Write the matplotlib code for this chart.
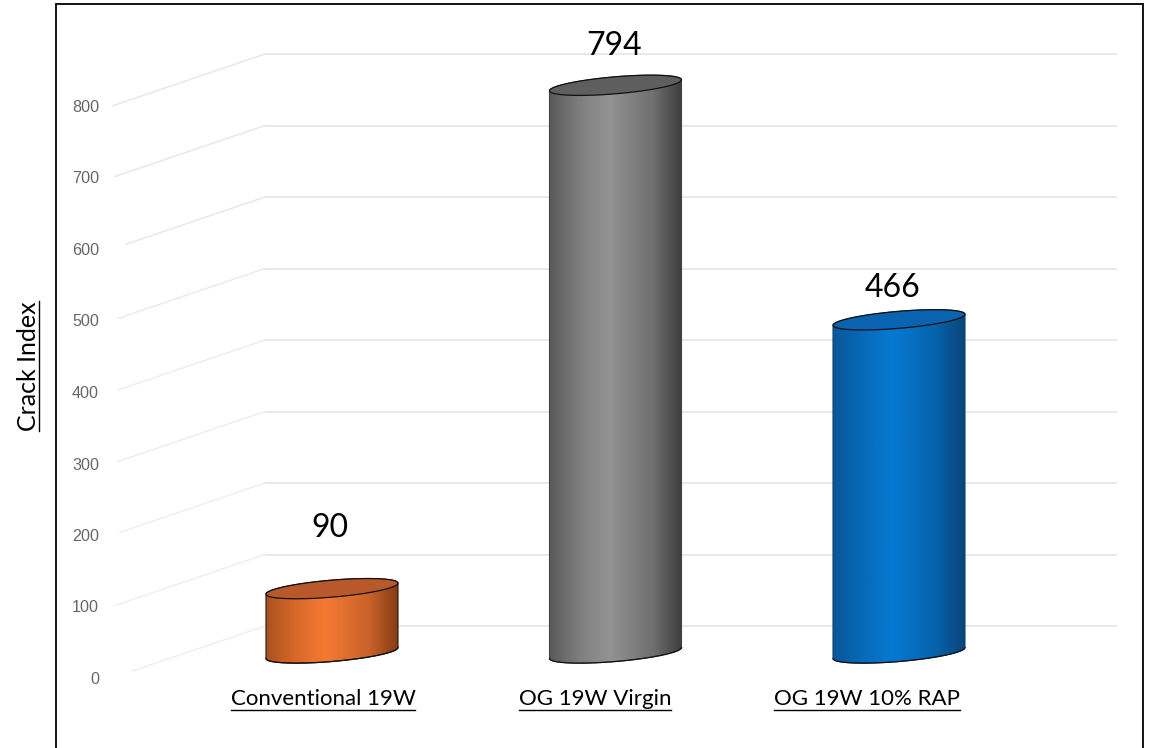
import numpy as np
import matplotlib
matplotlib.use("Agg")
import matplotlib.pyplot as plt
from matplotlib.colors import LinearSegmentedColormap
from matplotlib.path import Path
from matplotlib.patches import PathPatch, Rectangle

categories = ["Conventional 19W", "OG 19W Virgin", "OG 19W 10% RAP"]
values = [90, 794, 466]
y_ticks = [0, 100, 200, 300, 400, 500, 600, 700, 800]
y_label = "Crack Index"

edge_l_cols = ["#a9521f", "#5a5a5a", "#0c5699"]
shade_l_cols = ["#d9682a", "#7e7e7e", "#0669b8"]
mid_cols = ["#f57a33", "#939393", "#0679d2"]
shade_r_cols = ["#c9622a", "#6f6f6f", "#0662ab"]
edge_r_cols = ["#863d14", "#3e3e3e", "#0a4478"]
top_cols = ["#b9582a", "#5e5e5e", "#0a63b0"]
side_cols = ["#2a1408", "#444444", "#0a4478"]

W, H = 1151, 748
PX_PER_VAL = 0.715     # pixels per unit on the value scale
BACK_Y0 = 626          # pixel row of value 0 on the back wall
BASE_Y0 = 653          # pixel row of the cylinder base centre
FRONT_Y0 = 677         # pixel row of the value 0 front tick
X0, DX = 332, 283.5    # pixel column of category 0, and spacing

def xp(p):
    return (p - X0) / DX
def yp(p):
    return (BACK_Y0 - p) / PX_PER_VAL

fig = plt.figure(figsize=(W / 100, H / 100), dpi=100, facecolor="white")
ax = fig.add_axes([0, 0, 1, 1])
ax.set_axis_off()
xlim = (xp(0), xp(W))
ylim = (yp(H), yp(0))

# Floor/back wall grid lines
slant_start = [133, 115, 120, 118, 118, 118, 126, 115, 113]
slant_cols = ["#eeeeee", "#eeeeee", "#eeeeee", "#ececec", "#ececec", "#eaeaea",
              "#e6e6e6", "#e6e6e6", "#e6e6e6"]
for v, s, sc in zip(y_ticks, slant_start, slant_cols):
    back = yp(BACK_Y0 - v * PX_PER_VAL)
    ax.plot([xp(265), xp(1117)], [back, back], color="#e2e2e2", lw=1.1, zorder=1,
            solid_capstyle="butt")
    front_y = yp(FRONT_Y0 - v * PX_PER_VAL)
    start_y = front_y + (back - front_y) * (s - 115) / 150
    ax.plot([xp(s), xp(265)], [start_y, back], color=sc, lw=1.0, zorder=1)
    ax.text(xp(99), front_y - 2.5 / PX_PER_VAL, str(v), ha="right", va="center",
            color="#666666", fontsize=11.6, family="Liberation Sans", zorder=5)

# Cylinders
half_w = 66 / DX
skew = 5.5 / PX_PER_VAL
minor = 8.5 / PX_PER_VAL

def ring(xc, yc, t):
    return np.column_stack([xc + half_w * np.cos(t),
                            yc + skew * np.cos(t) + minor * np.sin(t)])

base_val = yp(BASE_Y0)
for i, v in enumerate(values):
    top_val = base_val + v
    front = ring(i, base_val, np.linspace(np.pi, 2 * np.pi, 60))
    back_arc = ring(i, top_val, np.linspace(0, np.pi, 60))
    body = Path(np.vstack([front, back_arc, front[:1]]), closed=False)
    cmap = LinearSegmentedColormap.from_list(
        "c", [(0, edge_l_cols[i]), (0.22, shade_l_cols[i]), (0.45, mid_cols[i]),
              (0.78, shade_r_cols[i]), (1, edge_r_cols[i])])
    grad = np.linspace(0, 1, 256).reshape(1, -1)
    im = ax.imshow(grad, cmap=cmap, aspect="auto", zorder=3, interpolation="bilinear",
                   extent=(i - half_w, i + half_w, base_val - 2 * minor, top_val + 2 * minor))
    outline = PathPatch(body, facecolor="none", edgecolor=side_cols[i], lw=0.8, zorder=4)
    ax.add_patch(outline)
    im.set_clip_path(outline)
    ax.plot(front[:, 0], front[:, 1], color="#111111", lw=0.9, zorder=4)
    cap = ring(i, top_val, np.linspace(0, 2 * np.pi, 120))
    ax.add_patch(PathPatch(Path(cap), facecolor=top_cols[i], edgecolor="#111111",
                           lw=0.9, zorder=4))

ax.set_xlim(xlim)
ax.set_ylim(ylim)

# Value labels
val_offset = [61, 39, 32]
val_shift = [-2, -1, -6]
for i, v in enumerate(values):
    ax.text(i + val_shift[i] / DX, base_val + v + val_offset[i] / PX_PER_VAL, str(v),
            ha="center", va="center", fontsize=23, family="Lato", color="black", zorder=6)

# Category labels with underline
cat_x = [323, 595, 867]
labels = []
for c, px in zip(categories, cat_x):
    labels.append(ax.text(xp(px), yp(699), c, ha="center", va="center", fontsize=16,
                          family="Lato", color="black", zorder=6))
yl = ax.text(xp(28), yp(366), y_label, rotation=90, ha="center", va="center",
             fontsize=18, family="Lato", color="black", zorder=6)

fig.canvas.draw()
rend = fig.canvas.get_renderer()
for t in labels:
    bb = t.get_window_extent(rend)
    fig.add_artist(plt.Line2D([bb.x0 / W, bb.x1 / W], [(H - 710) / H] * 2,
                              color="black", lw=1.0))
bb = yl.get_window_extent(rend)
fig.add_artist(plt.Line2D([39 / W] * 2, [bb.y0 / H, bb.y1 / H], color="black", lw=1.0))

# Picture frame, running off the bottom edge
fig.add_artist(Rectangle((56 / W, -0.02), (1143 - 56) / W, (H - 4) / H + 0.02,
                         transform=fig.transFigure, fill=False, edgecolor="black", lw=1.3))

fig.savefig("out.png", dpi=100)
